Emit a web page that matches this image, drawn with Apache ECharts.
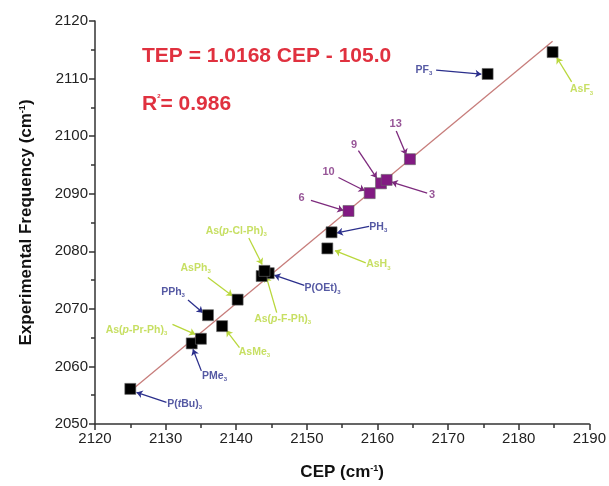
<!DOCTYPE html>
<html>
<head>
<meta charset="utf-8">
<script src="https://cdn.jsdelivr.net/npm/echarts@6/dist/echarts.min.js"></script>
<style>
  html, body { margin: 0; padding: 0; background: #fff; }
  #chart { width: 609px; height: 486px; }
</style>
</head>
<body>
<div id="chart"></div>
<script>
// ligand data
const names = ['P(tBu)3', 'PMe3', 'As(p-Pr-Ph)3', 'PPh3', 'AsMe3', 'AsPh3', 'As(p-F-Ph)3', 'As(p-Cl-Ph)3', 'P(OEt)3',
  'AsH3', 'PH3', '6', '10', '9', '3', '13', 'PF3', 'AsF3']
const kind = ['P', 'P', 'As', 'P', 'As', 'As', 'As', 'As', 'P', 'As', 'P', 'n', 'n', 'n', 'n', 'n', 'P', 'As']
const cep = [2125.0, 2133.7, 2135.0, 2136.0, 2138.0, 2140.2, 2143.6, 2144.0, 2144.6,
  2152.9, 2153.5, 2155.9, 2158.9, 2160.5, 2161.3, 2164.6, 2175.6, 2184.8]
const tep = [2056.1, 2064.0, 2064.8, 2068.9, 2067.0, 2071.6, 2075.7, 2076.6, 2076.2,
  2080.5, 2083.3, 2087.0, 2090.1, 2091.8, 2092.4, 2096.0, 2110.8, 2114.6]

// annotation label centres and arrows (data coordinates)
const labelX = [2132.70, 2136.93, 2125.88, 2131.05, 2142.58, 2134.25, 2146.57, 2140.00, 2152.22,
  2160.12, 2160.12, 2149.25, 2153.07, 2156.69, 2167.74, 2162.58, 2166.57, 2188.91]
const labelY = [2053.46, 2058.36, 2066.27, 2072.91, 2062.52, 2077.13, 2068.18, 2083.47, 2073.55,
  2077.70, 2084.16, 2089.25, 2093.75, 2098.48, 2089.82, 2102.06, 2111.46, 2108.12]
const arrowFrom = [[2130.12, 2053.76], [2135.06, 2059.23], [2130.97, 2067.31], [2133.17, 2071.52], [2140.46, 2063.28],
  [2135.99, 2075.45], [2145.73, 2069.34], [2141.78, 2082.32], [2149.64, 2074.07], [2158.34, 2078.00],
  [2158.81, 2084.33], [2150.58, 2088.83], [2154.48, 2092.82], [2157.30, 2097.49], [2167.04, 2090.11],
  [2162.66, 2100.90], [2168.31, 2111.46], [2187.50, 2109.44]]
const arrowTo = [[2125.88, 2055.49], [2133.87, 2062.98], [2134.21, 2065.58], [2135.28, 2069.34], [2138.59, 2066.27],
  [2139.48, 2072.25], [2144.23, 2075.68], [2143.67, 2077.70], [2145.40, 2075.85], [2153.97, 2080.12],
  [2154.25, 2083.19], [2155.18, 2087.10], [2158.20, 2090.51], [2159.90, 2092.71], [2162.01, 2092.02],
  [2164.07, 2096.75], [2174.71, 2110.77], [2185.38, 2113.66]]

// fitted line end points
const fitX = [2125.2, 2184.8]
const fitY = [2055.9, 2116.5]

const colors = { P: '#2b2f8c', As: '#b9d73c', n: '#7d2a7d' }
const markerColors = { P: '#000', As: '#000', n: '#821a82' }

// italic p / t and subscript 3 for ligand formulas
function fmt(name) {
  if (/^\d+$/.test(name)) return name
  return name.replace(/\((p|t)/, '({i|$1}').replace(/3$/, '{s|3}')
}

function richFor(c) {
  return {
    i: { color: c, fontSize: 10.5, fontWeight: 'bold', fontStyle: 'italic', fontFamily: 'Liberation Sans' },
    s: { color: c, fontSize: 6, fontWeight: 'bold', fontFamily: 'Liberation Sans', verticalAlign: 'bottom', padding: [7, 0, 0, 0] }
  }
}

const series = [{
  type: 'line',
  data: fitX.map((x, i) => [x, fitY[i]]),
  showSymbol: false,
  lineStyle: { color: '#c77d7b', width: 1.3 },
  z: 1,
  silent: true
}]

Object.keys(colors).forEach(k => {
  const idx = names.map((n, i) => i).filter(i => kind[i] === k)
  series.push({
    type: 'lines',
    coordinateSystem: 'cartesian2d',
    symbol: ['none', 'arrow'],
    symbolSize: 6,
    lineStyle: { color: colors[k], width: 1.3, opacity: 1 },
    data: idx.map(i => ({ coords: [arrowFrom[i], arrowTo[i]] })),
    z: 2,
    silent: true
  })
  series.push({
    type: 'scatter',
    symbol: 'rect',
    symbolSize: 11,
    itemStyle: { color: markerColors[k], opacity: 1, borderColor: '#666', borderWidth: 0.6 },
    data: idx.map(i => [cep[i], tep[i]]),
    z: 3
  })
  series.push({
    type: 'scatter',
    symbolSize: 0,
    data: idx.map(i => ({ value: [labelX[i], labelY[i]], name: names[i] })),
    label: {
      show: true,
      position: 'inside',
      formatter: p => fmt(p.name),
      color: colors[k],
      fontSize: k === 'n' ? 11 : 10.5,
      fontWeight: 'bold',
      fontFamily: 'Liberation Sans',
      rich: richFor(colors[k])
    },
    z: 4,
    silent: true
  })
})

const axisText = { color: '#222', fontSize: 15, fontFamily: 'Liberation Sans', margin: 7, formatter: v => String(v) }
const nameText = {
  color: '#111', fontSize: 17, fontWeight: 'bold', fontFamily: 'Liberation Sans',
  rich: { sup: { fontSize: 9, fontWeight: 'bold', color: '#111', verticalAlign: 'top', padding: [0, 0, 8, 0] } }
}

const chart = echarts.init(document.getElementById('chart'))
chart.setOption({
  animation: false,
  backgroundColor: '#fff',
  grid: { left: 95, right: 18, top: 21, bottom: 61, containLabel: false },
  xAxis: {
    type: 'value',
    min: 2120, max: 2190, interval: 10,
    name: 'CEP (cm{sup|-1})',
    nameLocation: 'middle',
    nameGap: 40,
    nameTextStyle: nameText,
    axisLine: { lineStyle: { color: '#333', width: 1.5 } },
    axisTick: { length: 6, lineStyle: { color: '#333', width: 1.5 } },
    minorTick: { show: true, splitNumber: 2, length: 4, lineStyle: { color: '#333', width: 1.5 } },
    splitLine: { show: false },
    axisLabel: axisText
  },
  yAxis: {
    type: 'value',
    min: 2050, max: 2120, interval: 10,
    name: 'Experimental Frequency (cm{sup|-1})',
    nameLocation: 'middle',
    nameGap: 60,
    nameTextStyle: nameText,
    axisLine: { show: true, lineStyle: { color: '#333', width: 1.5 } },
    axisTick: { show: true, length: 6, lineStyle: { color: '#333', width: 1.5 } },
    minorTick: { show: true, splitNumber: 2, length: 4, lineStyle: { color: '#333', width: 1.5 } },
    splitLine: { show: false },
    axisLabel: axisText
  },
  graphic: [{
    type: 'text',
    x: 142, y: 56,
    style: {
      text: 'TEP = 1.0168 CEP - 105.0',
      fill: '#e0313f',
      font: 'bold 21px "Liberation Sans"',
      verticalAlign: 'middle'
    }
  }, {
    type: 'text',
    x: 142, y: 104,
    style: {
      text: '{a|R}{b|2}{a|= 0.986}',
      verticalAlign: 'middle',
      rich: {
        a: { fill: '#e0313f', fontSize: 21, fontWeight: 'bold', fontFamily: 'Liberation Sans' },
        b: { fill: '#e0313f', fontSize: 6, fontWeight: 'bold', fontFamily: 'Liberation Sans', verticalAlign: 'top' }
      }
    }
  }],
  series: series
})
</script>
</body>
</html>
